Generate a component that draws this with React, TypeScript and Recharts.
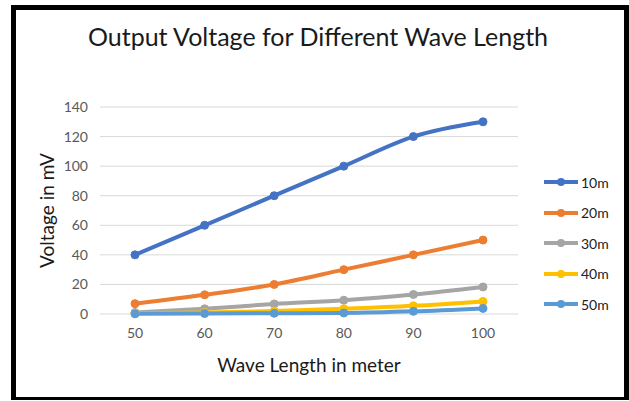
import React from 'react'
import { LineChart, Line, XAxis, YAxis, CartesianGrid } from 'recharts'

const waveLengths = [50, 60, 70, 80, 90, 100]
const yTicks = [0, 20, 40, 60, 80, 100, 120, 140]

const series10m = [40, 60, 80, 100, 120, 130]
const series20m = [7, 13, 20, 30, 40, 50]
const series30m = [1, 3.5, 6.8, 9.3, 13.2, 18.3]
const series40m = [0.5, 1, 2, 3.5, 5.5, 8.5]
const series50m = [0.1, 0.3, 0.5, 0.7, 1.8, 3.8]

const seriesList = [
  { key: 's10', name: '10m', values: series10m, color: '#4472C4' },
  { key: 's20', name: '20m', values: series20m, color: '#ED7D31' },
  { key: 's30', name: '30m', values: series30m, color: '#A5A5A5' },
  { key: 's40', name: '40m', values: series40m, color: '#FFC000' },
  { key: 's50', name: '50m', values: series50m, color: '#5B9BD5' },
]

const data = waveLengths.map((w, i) => {
  const row: Record<string, number> = { wave: w }
  seriesList.forEach(s => { row[s.key] = s.values[i] })
  return row
})

const FONT = 'Lato, "Open Sans", sans-serif'

// legend drawn outside the chart so it doesn't shrink the plot area
function LegendBox() {
  return (
    <div style={{ position: 'absolute', left: 543, top: 167, fontFamily: FONT, fontSize: 14, color: '#222' }}>
      {seriesList.map(s => (
        <div key={s.key} style={{ display: 'flex', alignItems: 'center', height: 30.5 }}>
          <svg width={36} height={10} style={{ marginRight: 2 }}>
            <line x1={1} y1={5} x2={35} y2={5} stroke={s.color} strokeWidth={4} />
            <circle cx={18} cy={5} r={4} fill={s.color} />
          </svg>
          <span>{s.name}</span>
        </div>
      ))}
    </div>
  )
}

export default function App() {
  return (
    <div style={{ position: 'absolute', left: 0, top: 0, width: 629, height: 401, background: '#fff' }}>
      <div
        style={{
          position: 'absolute', left: 11, top: 5, width: 618, height: 395, boxSizing: 'border-box',
          borderLeft: '5px solid #000', borderTop: '5px solid #000', borderRight: '5px solid #000',
          borderBottom: '3px solid #000',
        }}
      />
      <div
        style={{
          position: 'absolute', left: 0, top: 21, width: 636, textAlign: 'center',
          fontFamily: FONT, fontSize: 25, color: '#1a1a1a',
        }}
      >
        Output Voltage for Different Wave Length
      </div>
      <div style={{ position: 'absolute', left: 0, top: 0 }}>
        <LineChart width={629} height={401} data={data} margin={{ top: 107, right: 111, bottom: 27, left: 40 }}>
          <CartesianGrid vertical={false} stroke="#d9d9d9" />
          <XAxis
            dataKey="wave"
            type="category"
            axisLine={false}
            tickLine={false}
            padding={{ left: 35, right: 35 }}
            height={60}
            tickMargin={8}
            tick={{ fill: '#595959', fontSize: 14, fontFamily: FONT }}
            label={{ value: 'Wave Length in meter', position: 'insideBottom', offset: 2, fill: '#1a1a1a', fontSize: 19, fontFamily: FONT }}
          />
          <YAxis
            domain={[0, 140]}
            ticks={yTicks}
            width={60}
            axisLine={false}
            tickLine={false}
            tickMargin={6}
            tick={{ fill: '#595959', fontSize: 14, fontFamily: FONT }}
            label={{ value: 'Voltage in mV', angle: -90, position: 'insideLeft', offset: 7, fill: '#1a1a1a', fontSize: 19, fontFamily: FONT, style: { textAnchor: 'middle' } }}
          />
          {seriesList.map(s => (
            <Line
              key={s.key}
              type="monotone"
              dataKey={s.key}
              name={s.name}
              stroke={s.color}
              strokeWidth={4}
              dot={{ r: 4, fill: s.color, stroke: s.color, strokeWidth: 1 }}
              activeDot={false}
              isAnimationActive={false}
            />
          ))}
        </LineChart>
      </div>
      <LegendBox />
    </div>
  )
}
